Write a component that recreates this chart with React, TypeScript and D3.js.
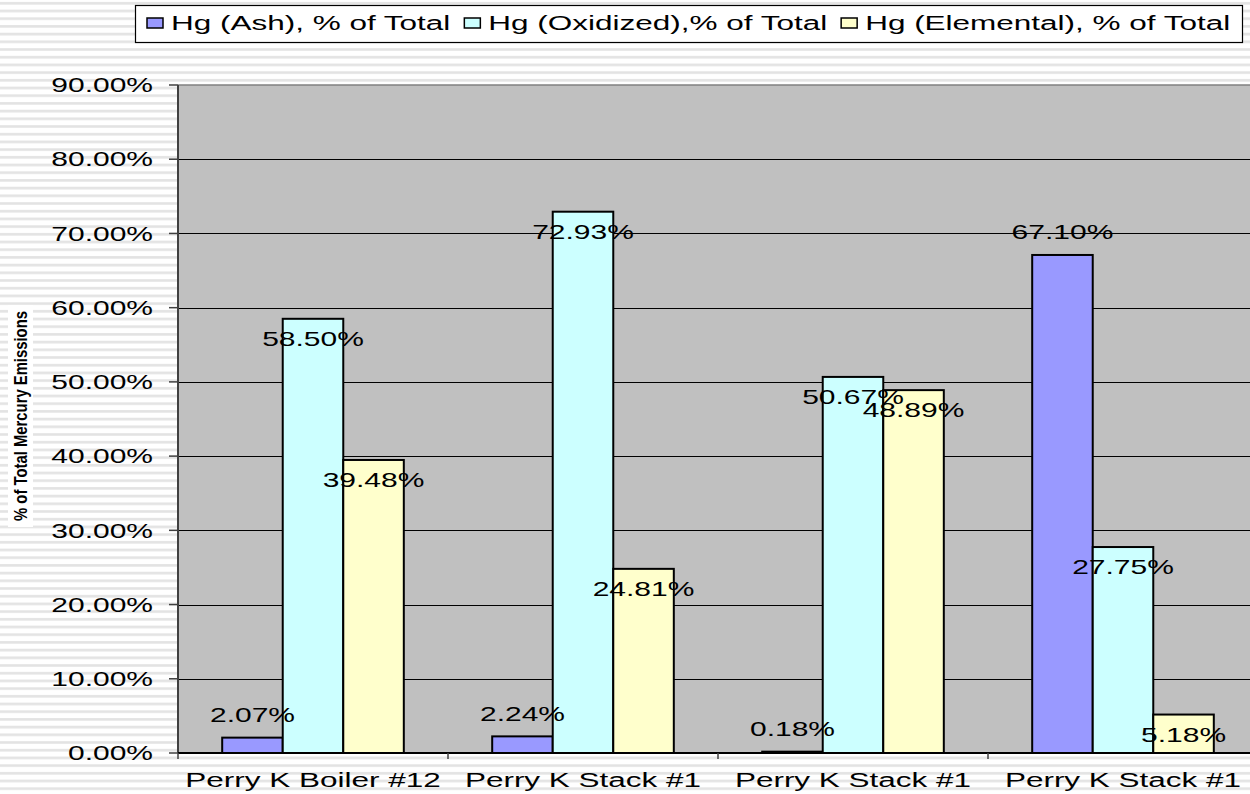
import React, { useEffect, useRef } from "react";
import * as d3 from "d3";

// data
const categories = ["Perry K Boiler #12", "Perry K Stack #1", "Perry K Stack #1", "Perry K Stack #1"];
const seriesNames = [
  "Hg (Ash), % of Total",
  "Hg (Oxidized),% of Total",
  "Hg (Elemental), % of Total",
];
const ashValues = [2.07, 2.24, 0.18, 67.1];
const oxidizedValues = [58.5, 72.93, 50.67, 27.75];
const elementalValues = [39.48, 24.81, 48.89, 5.18];
const yTicks = [0, 10, 20, 30, 40, 50, 60, 70, 80, 90];

const colors = ["#9999FF", "#CCFFFF", "#FFFFCC"];
const FONT = "'Liberation Sans', Arial, sans-serif";

export default function App() {
  const svgRef = useRef<SVGSVGElement>(null);

  useEffect(() => {
    const width = 1250;
    const height = 794;
    const svg = d3.select(svgRef.current);
    svg.selectAll("*").remove();

    const plot = { left: 178, right: 1258, top: 85, bottom: 753 };
    const stretch = 1.5; // the original image is stretched horizontally

    // striped page background
    const defs = svg.append("defs");
    const pat = defs
      .append("pattern")
      .attr("id", "stripes")
      .attr("patternUnits", "userSpaceOnUse")
      .attr("width", 8)
      .attr("height", 7.7);
    pat.append("rect").attr("width", 8).attr("height", 7.7).attr("fill", "#ffffff");
    pat.append("rect").attr("y", 2).attr("width", 8).attr("height", 2.6).attr("fill", "#e3e3e3");
    svg.append("rect").attr("width", width).attr("height", height).attr("fill", "url(#stripes)");

    const series = [ashValues, oxidizedValues, elementalValues];

    const x0 = d3
      .scaleBand<number>()
      .domain(categories.map((_, i) => i))
      .range([plot.left, plot.right])
      .padding(0);
    const x1 = d3
      .scaleBand<number>()
      .domain(series.map((_, i) => i))
      .range([0, x0.bandwidth()])
      .paddingInner(0)
      .paddingOuter(0.73);
    const y = d3.scaleLinear().domain([0, 90]).range([plot.bottom, plot.top]);

    // plot area
    svg
      .append("rect")
      .attr("x", plot.left)
      .attr("y", plot.top)
      .attr("width", plot.right - plot.left)
      .attr("height", plot.bottom - plot.top)
      .attr("fill", "#C0C0C0");
    svg
      .append("line")
      .attr("x1", plot.left)
      .attr("x2", plot.right)
      .attr("y1", plot.top)
      .attr("y2", plot.top)
      .attr("stroke", "#808080")
      .attr("stroke-width", 1.5);

    // gridlines
    svg
      .append("g")
      .selectAll("line")
      .data(yTicks.filter((t) => t > 0 && t < 90))
      .join("line")
      .attr("x1", plot.left)
      .attr("x2", plot.right)
      .attr("y1", (d) => Math.round(y(d)) + 0.5)
      .attr("y2", (d) => Math.round(y(d)) + 0.5)
      .attr("stroke", "#000")
      .attr("stroke-width", 1);

    // bars
    series.forEach((vals, s) => {
      svg
        .append("g")
        .selectAll("rect")
        .data(vals)
        .join("rect")
        .attr("x", (_, i) => x0(i)! + x1(s)!)
        .attr("y", (d) => y(d))
        .attr("width", x1.bandwidth())
        .attr("height", (d) => y(0) - y(d))
        .attr("fill", colors[s])
        .attr("stroke", "#000")
        .attr("stroke-width", 2);
    });

    // y axis
    svg
      .append("line")
      .attr("x1", plot.left)
      .attr("x2", plot.left)
      .attr("y1", plot.top)
      .attr("y2", plot.bottom)
      .attr("stroke", "#404040")
      .attr("stroke-width", 2);
    const yAxis = svg.append("g");
    yTicks.forEach((t) => {
      yAxis
        .append("line")
        .attr("x1", plot.left - 9)
        .attr("x2", plot.left)
        .attr("y1", y(t))
        .attr("y2", y(t))
        .attr("stroke", "#404040")
        .attr("stroke-width", 1.5);
      yAxis
        .append("text")
        .attr("transform", `translate(153,${y(t)}) scale(${stretch},1)`)
        .attr("text-anchor", "end")
        .attr("dy", "0.36em")
        .style("font-family", FONT)
        .style("font-size", "20px")
        .attr("fill", "#000")
        .text(d3.format(".2f")(t) + "%");
    });

    // x axis
    svg
      .append("line")
      .attr("x1", plot.left)
      .attr("x2", plot.right)
      .attr("y1", plot.bottom)
      .attr("y2", plot.bottom)
      .attr("stroke", "#000")
      .attr("stroke-width", 2);
    categories.forEach((c, i) => {
      svg
        .append("line")
        .attr("x1", x0(i)!)
        .attr("x2", x0(i)!)
        .attr("y1", plot.bottom)
        .attr("y2", plot.bottom + 6)
        .attr("stroke", "#404040")
        .attr("stroke-width", 1.5);
      svg
        .append("text")
        .attr("transform", `translate(${x0(i)! + x0.bandwidth() / 2},787) scale(${stretch},1)`)
        .attr("text-anchor", "middle")
        .style("font-family", FONT)
        .style("font-size", "21px")
        .attr("fill", "#000")
        .text(c);
    });

    // value labels (ash labels sit above the bar, the others just below its top)
    series.forEach((vals, s) => {
      vals.forEach((v, i) => {
        const off = s === 0 ? -23 : 20;
        svg
          .append("text")
          .attr(
            "transform",
            `translate(${x0(i)! + x1(s)! + x1.bandwidth() / 2},${y(v) + off}) scale(${stretch},1)`
          )
          .attr("text-anchor", "middle")
          .attr("dy", "0.36em")
          .style("font-family", FONT)
          .style("font-size", "20px")
          .attr("fill", "#000")
          .text(d3.format(".2f")(v) + "%");
      });
    });

    // y axis title
    svg
      .append("rect")
      .attr("x", 8)
      .attr("y", 305)
      .attr("width", 25)
      .attr("height", 222)
      .attr("fill", "#fff");
    svg
      .append("text")
      .attr("transform", `translate(21,416) scale(${stretch},1) rotate(-90)`)
      .attr("text-anchor", "middle")
      .attr("dy", "0.36em")
      .attr("textLength", 210)
      .attr("lengthAdjust", "spacingAndGlyphs")
      .style("font-family", FONT)
      .style("font-size", "12px")
      .style("font-weight", "bold")
      .attr("fill", "#000")
      .text("% of Total Mercury Emissions");

    // legend, laid out left to right from measured text widths
    const legend = svg.append("g");
    legend
      .append("rect")
      .attr("x", 135.5)
      .attr("y", 5.5)
      .attr("width", 1107)
      .attr("height", 37)
      .attr("fill", "#fff")
      .attr("stroke", "#000")
      .attr("stroke-width", 1.2);
    let lx = 147;
    seriesNames.forEach((name, s) => {
      legend
        .append("rect")
        .attr("x", lx)
        .attr("y", 18)
        .attr("width", 16)
        .attr("height", 10)
        .attr("fill", colors[s])
        .attr("stroke", "#000")
        .attr("stroke-width", 1.5);
      const t = legend
        .append("text")
        .attr("transform", `translate(${lx + 24},30) scale(${stretch},1)`)
        .style("font-family", FONT)
        .style("font-size", "21px")
        .attr("fill", "#000")
        .text(name);
      const w = (t.node() as SVGTextElement).getComputedTextLength() * stretch;
      lx += 24 + w + 14;
    });
  }, []);

  return (
    <svg
      ref={svgRef}
      width={1250}
      height={794}
      style={{ position: "absolute", left: 0, top: 0, display: "block" }}
    />
  );
}
